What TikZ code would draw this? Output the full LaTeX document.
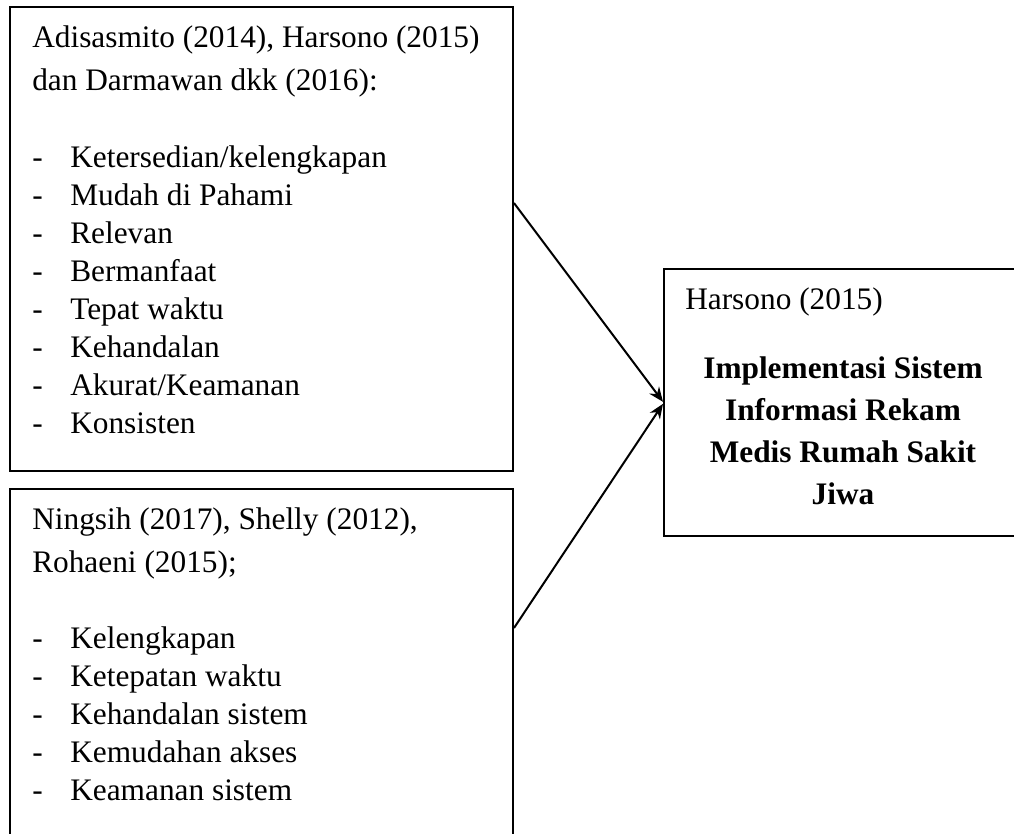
\documentclass[tikz,border=0pt]{standalone}
\usepackage{fontspec}
\setmainfont{Liberation Serif}
\usetikzlibrary{fit,arrows.meta}
\begin{document}
\begin{tikzpicture}[x=0.75pt,y=-0.75pt,
  box/.style={draw,line width=1.5pt,inner sep=0pt,rectangle},
  txt/.style={anchor=base west,inner sep=0pt,font=\fontsize{23.5}{28}\selectfont},
  ctr/.style={anchor=base,inner sep=0pt,font=\fontsize{23.5}{28}\selectfont\bfseries},
  conn/.style={line width=1.5pt,-{Stealth[length=11pt,width=9pt]}}]
\useasboundingbox (0,0) rectangle (1014,833);
\clip (0,0) rectangle (1014,833);
% boxes
\node (b1) [box, fit={(10,7)(513,471)}] {};
\node (b2) [box, fit={(10,489)(513,900)}] {};
\node (b3) [box, fit={(664,269)(1100,536)}] {};
% box 1 text
\node (h1a) [txt] at (32,47) {Adisasmito (2014), Harsono (2015)};
\node (h1b) [txt] at (32,90) {dan Darmawan dkk (2016):};
\foreach \t [count=\i] in {Ketersedian/kelengkapan,Mudah di Pahami,Relevan,Bermanfaat,Tepat waktu,Kehandalan,Akurat/Keamanan,Konsisten}{
  \node (d1\i) [txt] at (32,{167+38*(\i-1)}) {-};
  \node (i1\i) [txt] at (70,{167+38*(\i-1)}) {\t};
}
% box 2 text
\node (h2a) [txt] at (32,529) {Ningsih (2017), Shelly (2012),};
\node (h2b) [txt] at (32,572) {Rohaeni (2015);};
\foreach \t [count=\i] in {Kelengkapan,Ketepatan waktu,Kehandalan sistem,Kemudahan akses,Keamanan sistem}{
  \node (d2\i) [txt] at (32,{648+38*(\i-1)}) {-};
  \node (i2\i) [txt] at (70,{648+38*(\i-1)}) {\t};
}
% box 3 text
\node (h3) [txt] at (685,309) {Harsono (2015)};
\node (t31) [ctr] at (843,378) {Implementasi Sistem};
\node (t32) [ctr] at (843,420) {Informasi Rekam};
\node (t33) [ctr] at (843,462) {Medis Rumah Sakit};
\node (t34) [ctr] at (843,504) {Jiwa};
% connectors
\draw[conn] ([yshift=27pt]b1.east) -- ([yshift=0.5pt]b3.west);
\draw[conn] ([yshift=49.9pt]b2.east) -- ([yshift=-1pt]b3.west);
\end{tikzpicture}
\end{document}
